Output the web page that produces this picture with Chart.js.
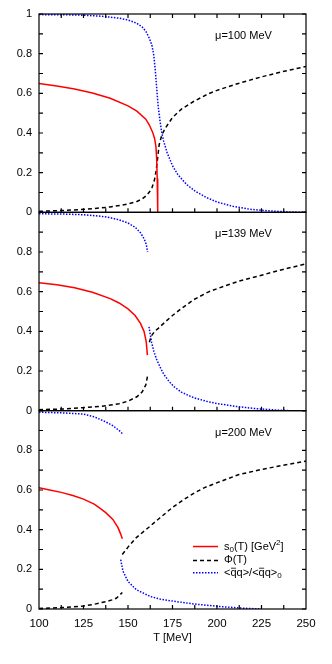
<!DOCTYPE html>
<html>
<head>
<meta charset="utf-8">
<script src="https://cdn.jsdelivr.net/npm/chart.js@4.4.1/dist/chart.umd.min.js"></script>
<style>
  html, body { margin: 0; padding: 0; background: #fff; }
  canvas { display: block; }
</style>
</head>
<body>
<canvas id="chart" width="332" height="664"></canvas>
<script>
// x axis ticks
const x_ticks = [100, 125, 150, 175, 200, 225, 250];
const panel_labels = ['\u03bc=100 MeV', '\u03bc=139 MeV', '\u03bc=200 MeV'];

// mu = 100 MeV
const T_s0_100 = [100, 110, 120, 130, 140, 150, 155, 160, 162, 164, 165, 165.7, 166.1, 166.4, 166.7];
const s0_100 = [0.650, 0.637, 0.622, 0.602, 0.575, 0.537, 0.510, 0.470, 0.440, 0.400, 0.370, 0.330, 0.270, 0.170, 0.0];
const T_phi_100 = [100, 110, 120, 130, 140, 150, 155, 158, 160, 162, 163.5, 164.8, 165.8, 166.6, 167.5, 169, 171, 175, 180, 187, 195, 200, 212, 225, 237, 250];
const phi_100 = [0.005, 0.008, 0.012, 0.018, 0.027, 0.042, 0.055, 0.068, 0.082, 0.102, 0.125, 0.16, 0.21, 0.27, 0.34, 0.39, 0.425, 0.478, 0.52, 0.56, 0.597, 0.615, 0.65, 0.683, 0.71, 0.735];
const T_qq_100 = [100, 115, 125, 135, 145, 150, 155, 158, 160, 162, 163.5, 164.5, 165.3, 166, 167, 168, 169, 170, 172, 175, 178, 183, 188, 194, 200, 209, 218, 228, 240, 250];
const qq_100 = [0.997, 0.996, 0.994, 0.989, 0.979, 0.97, 0.953, 0.934, 0.913, 0.878, 0.84, 0.79, 0.72, 0.64, 0.53, 0.46, 0.40, 0.36, 0.30, 0.235, 0.19, 0.14, 0.105, 0.075, 0.052, 0.03, 0.016, 0.008, 0.002, 0.0];

// mu = 139 MeV
const T_s0_139 = [100, 110, 120, 130, 140, 145, 150, 154, 157, 159, 160.2, 160.9];
const s0_139 = [0.645, 0.635, 0.620, 0.597, 0.565, 0.543, 0.513, 0.480, 0.440, 0.400, 0.350, 0.280];
const T_phi_139_lo = [100, 115, 125, 135, 145, 150, 155, 158, 160, 161];
const phi_139_lo = [0.005, 0.009, 0.015, 0.022, 0.035, 0.048, 0.07, 0.095, 0.13, 0.175];
const T_phi_139_hi = [162, 163, 165, 167, 170, 175, 180, 187, 195, 200, 212, 225, 237, 250];
const phi_139_hi = [0.345, 0.375, 0.40, 0.415, 0.44, 0.48, 0.515, 0.56, 0.598, 0.615, 0.652, 0.683, 0.712, 0.74];
const T_qq_139_hi = [100, 115, 125, 135, 140, 145, 150, 154, 157, 159, 160.3, 161];
const qq_139_hi = [0.993, 0.991, 0.988, 0.98, 0.973, 0.962, 0.946, 0.925, 0.897, 0.868, 0.838, 0.80];
const T_qq_139_lo = [161.8, 162.5, 163.3, 164.5, 166, 168, 170, 173, 176, 180, 187, 195, 200, 210, 222, 232, 241];
const qq_139_lo = [0.423, 0.385, 0.343, 0.30, 0.26, 0.22, 0.185, 0.148, 0.12, 0.093, 0.065, 0.045, 0.036, 0.022, 0.01, 0.004, 0.0];

// mu = 200 MeV
const T_s0_200 = [100, 106, 112.5, 119, 125, 131, 134, 137.5, 141.5, 144.4, 146, 146.8];
const s0_200 = [0.612, 0.60, 0.588, 0.572, 0.554, 0.529, 0.51, 0.486, 0.452, 0.41, 0.375, 0.354];
const T_phi_200_lo = [100, 112.5, 125, 131, 137.5, 141, 143.4, 146.8];
const phi_200_lo = [0.003, 0.007, 0.015, 0.024, 0.037, 0.046, 0.054, 0.083];
const T_phi_200_hi = [146.8, 150, 154.7, 162.6, 168, 175, 181, 187.3, 193, 199.8, 212.4, 224.7, 237.3, 250];
const phi_200_hi = [0.275, 0.312, 0.36, 0.419, 0.46, 0.512, 0.55, 0.585, 0.612, 0.636, 0.678, 0.703, 0.725, 0.746];
const T_qq_200_hi = [100, 112.5, 125, 131, 137.4, 141.5, 145.3, 146.8];
const qq_200_hi = [0.992, 0.989, 0.983, 0.969, 0.944, 0.924, 0.898, 0.885];
const T_qq_200_lo = [145.9, 147.2, 150, 154.7, 162.6, 168, 175, 187.3, 199.8, 212.4, 225];
const qq_200_lo = [0.249, 0.19, 0.139, 0.097, 0.063, 0.05, 0.04, 0.025, 0.014, 0.005, 0.0];

const FONT = "'Liberation Sans', Arial, sans-serif";
const RED = 'rgb(255, 0, 0)';
const BLUE = 'rgb(0, 0, 255)';

const styles = {
    s0: { borderColor: RED, borderWidth: 1.5, borderDash: [] },
    phi: { borderColor: '#000', borderWidth: 1.5, borderDash: [4, 3] },
    qq: { borderColor: BLUE, borderWidth: 1.5, borderDash: [1.5, 1.5] }
};

function series(T, vals, axis, kind) {
    return Object.assign({
        data: T.map((t, i) => ({ x: t, y: vals[i] })),
        yAxisID: axis,
        pointRadius: 0,
        tension: 0,
        fill: false
    }, styles[kind]);
}

const datasets = [
    series(T_s0_100, s0_100, 'yA', 's0'),
    series(T_phi_100, phi_100, 'yA', 'phi'),
    series(T_qq_100, qq_100, 'yA', 'qq'),
    series(T_s0_139, s0_139, 'yB', 's0'),
    series(T_phi_139_lo, phi_139_lo, 'yB', 'phi'),
    series(T_phi_139_hi, phi_139_hi, 'yB', 'phi'),
    series(T_qq_139_hi, qq_139_hi, 'yB', 'qq'),
    series(T_qq_139_lo, qq_139_lo, 'yB', 'qq'),
    series(T_s0_200, s0_200, 'yC', 's0'),
    series(T_phi_200_lo, phi_200_lo, 'yC', 'phi'),
    series(T_phi_200_hi, phi_200_hi, 'yC', 'phi'),
    series(T_qq_200_hi, qq_200_hi, 'yC', 'qq'),
    series(T_qq_200_lo, qq_200_lo, 'yC', 'qq')
];

function y_axis(hide_top) {
    return {
        type: 'linear',
        position: 'left',
        stack: 'panels',
        stackWeight: 1,
        min: 0,
        max: 1,
        afterFit: (s) => { s.width = 39; },
        grid: { display: false, drawTicks: false },
        border: { display: false },
        ticks: {
            stepSize: 0.2,
            autoSkip: false,
            padding: 7,
            color: '#000',
            font: { family: FONT, size: 11 },
            callback: (v) => (hide_top && v > 0.99) ? '' : String(+v.toFixed(1))
        }
    };
}

// frame, inward ticks, panel labels and key
const decorations = {
    id: 'decorations',
    afterDatasetsDraw(chart) {
        const ctx = chart.ctx;
        const x = chart.scales.x;
        const panels = [chart.scales.yA, chart.scales.yB, chart.scales.yC];
        const tick = 4;

        ctx.save();
        ctx.strokeStyle = '#000';
        ctx.lineWidth = 1.2;
        ctx.setLineDash([]);

        panels.forEach((y, p) => {
            ctx.strokeRect(x.left, y.top, x.right - x.left, y.bottom - y.top);
            ctx.beginPath();
            for (let k = 0; k <= 10; k++) {
                const py = y.getPixelForValue(k / 10);
                ctx.moveTo(x.left, py); ctx.lineTo(x.left + tick, py);
                ctx.moveTo(x.right, py); ctx.lineTo(x.right - tick, py);
            }
            for (let t = 112.5; t < 250; t += 12.5) {
                const px = x.getPixelForValue(t);
                ctx.moveTo(px, y.bottom); ctx.lineTo(px, y.bottom - tick);
                if (p == 0) {
                    ctx.moveTo(px, y.top); ctx.lineTo(px, y.top + tick);
                }
            }
            ctx.stroke();

            ctx.fillStyle = '#000';
            ctx.font = '11px ' + FONT;
            ctx.textBaseline = 'middle';
            ctx.textAlign = 'left';
            ctx.fillText(panel_labels[p], x.getPixelForValue(198.9), y.getPixelForValue(0.89));
        });

        // key in the bottom panel
        const y = chart.scales.yC;
        const rows = [y.getPixelForValue(0.315), y.getPixelForValue(0.245), y.getPixelForValue(0.183)];
        const kinds = ['s0', 'phi', 'qq'];
        const x0 = 193, x1 = 218, tx = 224;
        kinds.forEach((k, i) => {
            ctx.beginPath();
            ctx.strokeStyle = styles[k].borderColor;
            ctx.lineWidth = styles[k].borderWidth;
            ctx.setLineDash(styles[k].borderDash);
            ctx.moveTo(x0, rows[i]);
            ctx.lineTo(x1, rows[i]);
            ctx.stroke();
        });
        ctx.setLineDash([]);
        ctx.fillStyle = '#000';
        ctx.strokeStyle = '#000';
        ctx.lineWidth = 0.8;
        ctx.textBaseline = 'middle';
        ctx.textAlign = 'left';

        function piece(txt, px, py, size, bar) {
            ctx.font = size + 'px ' + FONT;
            ctx.fillText(txt, px, py);
            const w = ctx.measureText(txt).width;
            if (bar) {
                ctx.beginPath();
                ctx.moveTo(px + 0.5, py - 4.5);
                ctx.lineTo(px + w - 0.5, py - 4.5);
                ctx.stroke();
            }
            return px + w;
        }

        let cx = tx;
        cx = piece('s', cx, rows[0], 11);
        cx = piece('0', cx, rows[0] + 3, 8);
        cx = piece('(T) [GeV', cx, rows[0], 11);
        cx = piece('2', cx, rows[0] - 4, 8);
        piece(']', cx, rows[0], 11);

        piece('\u03a6(T)', tx, rows[1], 11);

        cx = tx;
        cx = piece('<', cx, rows[2], 11);
        cx = piece('q', cx, rows[2], 11, true);
        cx = piece('q>/<', cx, rows[2], 11);
        cx = piece('q', cx, rows[2], 11, true);
        cx = piece('q>', cx, rows[2], 11);
        piece('0', cx, rows[2] + 3, 8);

        ctx.restore();
    }
};

const canvas = document.getElementById('chart');
const chart = new Chart(canvas, {
    type: 'line',
    data: { datasets: datasets },
    options: {
        responsive: false,
        animation: false,
        layout: { padding: { left: 0, right: 26, top: 14, bottom: 0 } },
        plugins: {
            legend: { display: false },
            tooltip: { enabled: false }
        },
        scales: {
            x: {
                type: 'linear',
                min: 100,
                max: 250,
                afterFit: (s) => { s.height = 55; },
                afterBuildTicks: (s) => { s.ticks = x_ticks.map(v => ({ value: v })); },
                grid: { display: false, drawTicks: false },
                border: { display: false },
                ticks: {
                    autoSkip: false,
                    maxRotation: 0,
                    padding: 8,
                    color: '#000',
                    font: { family: FONT, size: 11.5 }
                },
                title: {
                    display: true,
                    text: 'T [MeV]',
                    color: '#000',
                    padding: { top: 0, bottom: 19 },
                    font: { family: FONT, size: 11 }
                }
            },
            yC: y_axis(true),
            yB: y_axis(true),
            yA: y_axis(false)
        }
    },
    plugins: [decorations]
});
</script>
</body>
</html>
